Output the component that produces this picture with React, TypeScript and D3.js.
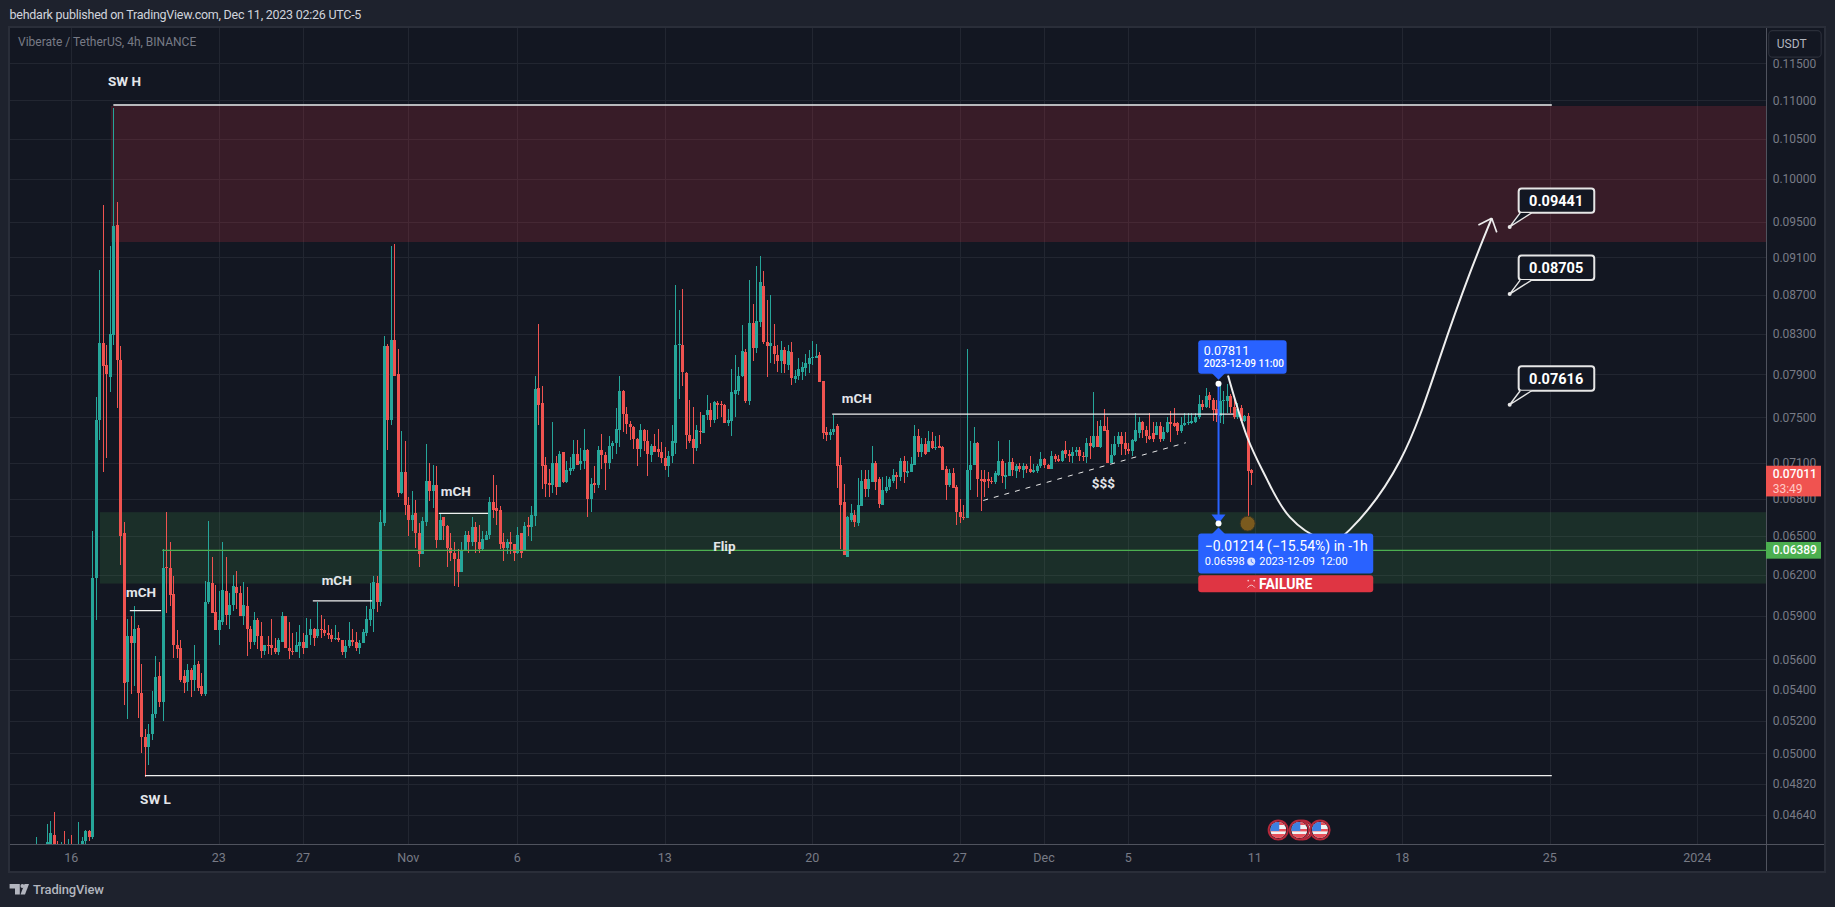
import React, { useEffect, useRef } from "react";
import * as d3 from "d3";

// open, high, low, close, one row per candle
const candlesOct = [
  [.0440,.0452,.0438,.0443],[.0443,.0446,.0438,.0441],[.0441,.0444,.0438,.0442],[.0445,.0459,.0442,.0449],
  [.0445,.0461,.0440,.0454],[.0453,.0466,.0440,.0444],[.0444,.0450,.0438,.0441],[.0441,.0449,.0438,.0444],
  [.0444,.0455,.0438,.0441],[.0441,.0451,.0438,.0444],[.0444,.0453,.0438,.0441],[.0441,.0447,.0438,.0443],
  [.0441,.0460,.0438,.0444],[.0444,.0452,.0440,.0450],[.0450,.0456,.0448,.0455],[.0455,.0456,.0450,.0452],
  [.0452,.0654,.0451,.0618],[.0618,.0769,.0587,.0748],[.0748,.0896,.0730,.0821],[.0821,.0969,.0702,.0798],
  [.0799,.0819,.0714,.0790],[.0788,.0923,.0773,.0830],[.0829,.1090,.0819,.0945],[.0946,.0973,.0759,.0804],
  [.0804,.0818,.0628,.0650],[.0652,.0661,.0530,.0544],[.0545,.0588,.0521,.0576],[.0576,.0590,.0537,.0571],
  [.0571,.0597,.0542,.0581],[.0582,.0584,.0522,.0538],[.0538,.0557,.0500,.0510],[.0510,.0515,.0486,.0504],
  [.0504,.0518,.0493,.0512],[.0512,.0539,.0508,.0524],[.0524,.0562,.0522,.0548],[.0549,.0558,.0529,.0532],
  [.0532,.0640,.0520,.0625],[.0626,.0669,.0592,.0625],[.0625,.0645,.0597,.0605],[.0606,.0619,.0561,.0570],
  [.0570,.0580,.0561,.0567],[.0568,.0573,.0545,.0546],[.0549,.0553,.0538,.0544],[.0545,.0557,.0539,.0553],
  [.0553,.0554,.0535,.0546],[.0546,.0570,.0539,.0556],[.0557,.0559,.0539,.0541],[.0542,.0551,.0536,.0537],
  [.0537,.0616,.0536,.0600],[.0600,.0662,.0599,.0615],[.0614,.0634,.0592,.0592],[.0593,.0613,.0580,.0580],
  [.0580,.0608,.0570,.0587],[.0586,.0645,.0584,.0609],[.0608,.0634,.0584,.0591],[.0591,.0607,.0581,.0598],
  [.0598,.0620,.0594,.0612],[.0611,.0623,.0595,.0607],[.0607,.0612,.0590,.0590],[.0590,.0615,.0584,.0598],
  [.0597,.0611,.0562,.0581],[.0581,.0583,.0567,.0572],[.0572,.0593,.0570,.0587],[.0587,.0589,.0567,.0576],
  [.0576,.0586,.0561,.0566],[.0566,.0570,.0563,.0570],[.0570,.0576,.0564,.0569],[.0570,.0588,.0563,.0568],
  [.0568,.0575,.0564,.0565],[.0565,.0575,.0563,.0573],[.0572,.0593,.0572,.0590],[.0590,.0590,.0568,.0568],
  [.0568,.0586,.0560,.0566],[.0566,.0578,.0563,.0565],[.0565,.0579,.0565,.0570],[.0569,.0584,.0561,.0572],
  [.0572,.0578,.0564,.0568],[.0568,.0589,.0568,.0577],[.0577,.0588,.0570,.0581],[.0581,.0582,.0569,.0575],
  [.0576,.0600,.0575,.0581],[.0581,.0591,.0575,.0580],[.0580,.0588,.0576,.0578],[.0578,.0584,.0574,.0577],
  [.0577,.0581,.0572,.0574],[.0574,.0584,.0573,.0575],[.0575,.0579,.0572,.0573],[.0573,.0573,.0563,.0565],
  [.0565,.0573,.0561,.0569],[.0569,.0586,.0568,.0573],[.0573,.0581,.0569,.0572],[.0572,.0579,.0566,.0568],
  [.0568,.0573,.0564,.0571],[.0571,.0581,.0571,.0579],[.0578,.0597,.0576,.0588],[.0587,.0614,.0583,.0595],
  [.0595,.0619,.0579,.0615],[.0614,.0619,.0593,.0600],[.0600,.0671,.0597,.0661],[.0660,.0828,.0658,.0818],
  [.0818,.0820,.0721,.0748],[.0748,.0923,.0743,.0824],[.0824,.0925,.0789,.0789],[.0790,.0815,.0681,.0685],
  [.0685,.0738,.0684,.0702],[.0702,.0729,.0667,.0675],
];

const candlesNov = [
  [.0675,.0681,.0650,.0663],[.0663,.0686,.0654,.0667],[.0668,.0679,.0641,.0652],[.0652,.0660,.0626,.0636],
  [.0636,.0665,.0636,.0662],[.0661,.0726,.0658,.0695],[.0695,.0710,.0678,.0686],[.0686,.0708,.0672,.0691],
  [.0691,.0707,.0641,.0647],[.0647,.0668,.0647,.0663],[.0665,.0665,.0647,.0658],[.0658,.0659,.0626,.0641],
  [.0641,.0652,.0631,.0637],[.0637,.0645,.0612,.0632],[.0632,.0640,.0611,.0622],[.0622,.0645,.0622,.0639],
  [.0639,.0654,.0638,.0651],[.0651,.0654,.0637,.0645],[.0645,.0665,.0642,.0657],[.0657,.0661,.0637,.0645],
  [.0645,.0659,.0637,.0640],[.0640,.0654,.0639,.0648],[.0647,.0654,.0647,.0651],[.0651,.0681,.0648,.0677],
  [.0677,.0700,.0664,.0671],[.0672,.0691,.0659,.0670],[.0671,.0674,.0640,.0644],[.0645,.0652,.0631,.0641],
  [.0641,.0648,.0636,.0645],[.0645,.0653,.0636,.0644],[.0644,.0644,.0631,.0637],[.0637,.0657,.0636,.0651],
  [.0652,.0652,.0633,.0637],[.0639,.0661,.0639,.0658],[.0659,.0665,.0650,.0657],[.0657,.0674,.0646,.0667],
  [.0666,.0789,.0658,.0776],[.0777,.0840,.0743,.0761],[.0763,.0779,.0688,.0707],[.0708,.0715,.0681,.0692],
  [.0693,.0705,.0681,.0691],[.0691,.0746,.0685,.0710],[.0710,.0716,.0683,.0690],[.0690,.0720,.0690,.0718],
  [.0719,.0719,.0693,.0694],[.0694,.0712,.0693,.0704],[.0703,.0715,.0700,.0706],[.0705,.0730,.0703,.0718],
  [.0718,.0730,.0708,.0708],[.0709,.0723,.0704,.0712],[.0712,.0740,.0705,.0721],[.0721,.0722,.0665,.0680],
  [.0680,.0697,.0669,.0692],[.0693,.0707,.0685,.0691],[.0691,.0725,.0689,.0721],[.0721,.0735,.0705,.0717],
  [.0717,.0719,.0687,.0710],[.0710,.0733,.0705,.0725],[.0725,.0729,.0713,.0727],[.0727,.0759,.0718,.0740],
  [.0739,.0789,.0724,.0774],[.0774,.0775,.0737,.0753],[.0753,.0760,.0735,.0744],[.0744,.0747,.0730,.0741],
  [.0741,.0742,.0722,.0731],[.0731,.0732,.0707,.0722],[.0722,.0744,.0715,.0739],[.0739,.0740,.0720,.0729],
  [.0729,.0739,.0699,.0718],[.0717,.0726,.0711,.0725],[.0725,.0735,.0719,.0719],[.0722,.0740,.0715,.0719],
  [.0719,.0728,.0710,.0714],[.0714,.0724,.0704,.0707],[.0707,.0720,.0698,.0716],[.0716,.0743,.0710,.0729],
  [.0727,.0880,.0718,.0819],[.0819,.0854,.0767,.0820],[.0819,.0876,.0779,.0792],[.0791,.0792,.0722,.0734],
  [.0734,.0766,.0727,.0729],[.0731,.0760,.0709,.0723],[.0723,.0743,.0720,.0739],[.0738,.0755,.0726,.0737],
  [.0736,.0752,.0736,.0752],[.0752,.0771,.0748,.0757],[.0757,.0763,.0741,.0748],[.0748,.0765,.0745,.0764],
  [.0763,.0765,.0749,.0761],[.0762,.0765,.0750,.0761],[.0761,.0762,.0745,.0745],[.0745,.0758,.0742,.0748],
  [.0747,.0795,.0733,.0773],[.0772,.0809,.0750,.0775],[.0774,.0797,.0771,.0789],[.0789,.0839,.0788,.0813],
  [.0812,.0815,.0763,.0765],[.0765,.0885,.0761,.0841],[.0841,.0860,.0803,.0816],[.0816,.0901,.0811,.0843],
  [.0842,.0912,.0837,.0883],[.0879,.0895,.0820,.0822],[.0822,.0864,.0788,.0818],[.0818,.0870,.0801,.0821],
  [.0818,.0840,.0800,.0810],[.0809,.0819,.0792,.0803],[.0803,.0823,.0791,.0814],[.0814,.0817,.0791,.0800],
  [.0799,.0819,.0794,.0813],[.0812,.0822,.0780,.0787],[.0786,.0794,.0782,.0789],[.0789,.0806,.0785,.0795],
  [.0792,.0802,.0785,.0797],[.0796,.0810,.0789,.0801],[.0800,.0814,.0791,.0806],[.0806,.0823,.0799,.0807],
  [.0806,.0820,.0806,.0808],[.0809,.0812,.0783,.0783],[.0784,.0784,.0731,.0736],[.0737,.0741,.0729,.0734],
  [.0734,.0740,.0730,.0737],[.0737,.0752,.0734,.0740],[.0742,.0744,.0689,.0707],[.0708,.0715,.0640,.0675],
  [.0677,.0692,.0635,.0635],[.0634,.0666,.0634,.0665],[.0663,.0676,.0661,.0668],[.0667,.0671,.0657,.0661],
  [.0660,.0697,.0658,.0675],[.0674,.0704,.0674,.0695],[.0696,.0704,.0681,.0688],[.0688,.0704,.0681,.0696],
  [.0694,.0725,.0694,.0710],[.0710,.0712,.0687,.0694],[.0696,.0698,.0672,.0676],[.0675,.0698,.0675,.0687],
  [.0686,.0699,.0685,.0690],[.0690,.0698,.0687,.0696],[.0695,.0705,.0693,.0700],[.0700,.0702,.0688,.0698],
  [.0698,.0714,.0695,.0712],[.0712,.0716,.0693,.0702],[.0701,.0712,.0698,.0703],[.0702,.0715,.0702,.0709],
  [.0708,.0743,.0708,.0733],[.0733,.0740,.0715,.0719],[.0719,.0732,.0715,.0726],[.0726,.0732,.0717,.0718],
  [.0719,.0738,.0719,.0729],[.0729,.0737,.0722,.0723],[.0723,.0733,.0721,.0724],[.0725,.0734,.0723,.0723],
  [.0724,.0725,.0704,.0704],[.0705,.0707,.0679,.0691],[.0691,.0705,.0690,.0701],[.0701,.0706,.0689,.0689],
  [.0690,.0691,.0659,.0669],[.0669,.0680,.0660,.0665],[.0665,.0675,.0663,.0664],[.0664,.0815,.0664,.0704],
  [.0704,.0729,.0687,.0708],[.0708,.0741,.0708,.0727],[.0727,.0728,.0681,.0696],[.0696,.0704,.0670,.0695],
  [.0696,.0704,.0681,.0694],[.0696,.0702,.0689,.0695],[.0695,.0698,.0692,.0694],[.0694,.0703,.0692,.0701],
  [.0700,.0729,.0699,.0712],[.0712,.0713,.0693,.0699],[.0698,.0710,.0688,.0700],[.0699,.0730,.0699,.0711],
  [.0711,.0714,.0699,.0704],[.0703,.0709,.0697,.0707],[.0707,.0710,.0702,.0705],[.0704,.0710,.0697,.0707],
  [.0707,.0709,.0701,.0705],[.0705,.0716,.0701,.0702],[.0702,.0709,.0701,.0704],[.0703,.0709,.0701,.0707],
  [.0707,.0719,.0706,.0713],
];

const candlesDec = [
  [.0713,.0714,.0706,.0708],[.0708,.0709,.0705,.0705],[.0705,.0720,.0705,.0716],[.0716,.0718,.0711,.0713],
  [.0713,.0717,.0711,.0712],[.0712,.0721,.0711,.0720],[.0721,.0729,.0714,.0718],[.0718,.0721,.0711,.0716],
  [.0716,.0724,.0710,.0719],[.0719,.0724,.0716,.0721],[.0721,.0724,.0712,.0716],[.0716,.0719,.0712,.0715],
  [.0715,.0732,.0710,.0727],[.0727,.0733,.0713,.0725],[.0724,.0773,.0723,.0733],[.0733,.0747,.0724,.0724],
  [.0724,.0748,.0723,.0742],[.0742,.0758,.0738,.0738],[.0739,.0750,.0710,.0710],[.0710,.0726,.0710,.0717],
  [.0717,.0733,.0716,.0726],[.0726,.0737,.0724,.0733],[.0733,.0737,.0717,.0726],[.0727,.0737,.0717,.0722],
  [.0722,.0727,.0718,.0720],[.0720,.0731,.0716,.0730],[.0729,.0754,.0728,.0739],[.0736,.0750,.0732,.0746],
  [.0746,.0747,.0732,.0739],[.0739,.0742,.0727,.0733],[.0733,.0754,.0730,.0731],[.0736,.0746,.0728,.0731],
  [.0734,.0746,.0734,.0742],[.0742,.0746,.0728,.0731],[.0731,.0741,.0729,.0737],[.0737,.0750,.0736,.0746],
  [.0746,.0756,.0728,.0744],[.0745,.0759,.0741,.0742],[.0745,.0746,.0734,.0738],[.0738,.0750,.0736,.0743],
  [.0743,.0754,.0742,.0745],[.0745,.0754,.0743,.0746],[.0745,.0754,.0744,.0747],[.0746,.0754,.0745,.0750],
  [.0750,.0771,.0749,.0762],[.0762,.0766,.0757,.0760],[.0760,.0777,.0759,.0770],[.0771,.0773,.0759,.0766],
  [.0766,.0768,.0747,.0757],[.0758,.0766,.0746,.0752],[.0751,.07811,.0745,.0765],[.0765,.0774,.0744,.0766],
  [.0765,.0781,.0754,.0770],[.0770,.0772,.0754,.0760],[.0760,.0766,.0749,.0750],[.0750,.0763,.0749,.0758],
  [.0759,.0761,.0747,.0747],[.0747,.0752,.0746,.0751],[.0751,.0754,.06598,.0703],[.0704,.0705,.0691,.07011],
];

const firstCandleIndex = -10; // candle index 0 sits on the "16" tick

const priceTicks = [0.115, 0.11, 0.105, 0.1, 0.095, 0.091, 0.087, 0.083, 0.079, 0.075, 0.071, 0.068, 0.065, 0.062, 0.059, 0.056, 0.054, 0.052, 0.05, 0.0482, 0.0464];
const dateLabels = ["16", "23", "27", "Nov", "6", "13", "20", "27", "Dec", "5", "11", "18", "25", "2024"];
const dateCandles = [0, 42, 66, 96, 127, 169, 211, 253, 277, 301, 337, 379, 421, 463];

// drawings, in candle index and price
const zoneRed = { from: 11.3, top: 0.10925, bottom: 0.0927 };
const zoneGreen = { from: 8.2, top: 0.0669, bottom: 0.06137 };
const flipPrice = 0.06389;
const flipFrom = 25.9;
const structureLines = [
  [12, 421.6, 0.10938],
  [21, 421.6, 0.04867],
  [16.7, 25.6, 0.0594],
  [68.8, 85.7, 0.0601],
  [104.7, 118.7, 0.0668],
  [216.7, 331, 0.0753],
];
const trendline = [[259.7, 0.06785], [317.4, 0.07275]];
const noteLabels = [
  ["SW H", 15.2, 0.1126],
  ["SW L", 24, 0.04732],
  ["mCH", 19.9, 0.0607],
  ["mCH", 75.6, 0.0616],
  ["mCH", 109.5, 0.0686],
  ["mCH", 223.7, 0.0768],
  ["Flip", 186, 0.0642],
  ["$$$", 293.9, 0.0693],
];
const pathPoints = [
  [329.4, 0.0789], [334.8, 0.0733], [340.5, 0.0696], [347, 0.0665], [356.4, 0.0647],
  [364.1, 0.0655], [378.4, 0.0712], [389.8, 0.0807], [398.3, 0.0893], [404.5, 0.0954],
];
const targetPrices = [0.09441, 0.08705, 0.07616];
const targetCandle = 409.6;
const flagCandles = [343.7, 350.7, 349.7, 355.6];

const PAGE_W = 1835;
const PAGE_H = 907;
const PANE = { left: 10, top: 28, right: 1766, bottom: 844 };
const UP = "#26a69a";
const DOWN = "#ef5350";
const BLUE = "#2962ff";
const FONT = "Roboto, sans-serif";

const App: React.FC = () => {
  const ref = useRef<SVGSVGElement | null>(null);

  useEffect(() => {
    document.body.style.margin = "0";
    const svg = d3.select(ref.current);
    svg.selectAll("*").remove();

    const candles = [...candlesOct, ...candlesNov, ...candlesDec].map((c, i) => ({
      k: i + firstCandleIndex,
      open: c[0],
      high: c[1],
      low: c[2],
      close: c[3],
    }));

    // Scales
    const x = d3.scaleLinear().domain([0, 463]).range([71.2, 1697.2]);
    const y = d3.scaleLog().domain([0.05, 0.11]).range([753.3, 100.3]);

    const text = (g: any, str: string, px: number, py: number, size: number, fill: string, weight = 400, anchor = "start") =>
      g
        .append("text")
        .attr("x", px)
        .attr("y", py)
        .attr("dy", "0.35em")
        .attr("font-family", FONT)
        .attr("font-size", size)
        .attr("font-weight", weight)
        .attr("fill", fill)
        .attr("text-anchor", anchor)
        .text(str);

    // Page and pane
    svg.append("rect").attr("width", PAGE_W).attr("height", PAGE_H).attr("fill", "#1e222d");
    svg
      .append("rect")
      .attr("x", 9)
      .attr("y", 27)
      .attr("width", 1816)
      .attr("height", 845)
      .attr("fill", "#131722")
      .attr("stroke", "#2a2e39")
      .attr("stroke-width", 2);
    text(svg, "behdark published on TradingView.com, Dec 11, 2023 02:26 UTC-5", 9.5, 15, 12.5, "#d1d4dc").attr("letter-spacing", -0.25);

    svg
      .append("clipPath")
      .attr("id", "pane")
      .append("rect")
      .attr("x", PANE.left)
      .attr("y", PANE.top)
      .attr("width", PANE.right - PANE.left)
      .attr("height", PANE.bottom - PANE.top);
    const pane = svg.append("g").attr("clip-path", "url(#pane)");

    // Grid
    const grid = pane.append("g").attr("stroke", "#222631").attr("shape-rendering", "crispEdges");
    priceTicks.forEach((p) => {
      grid.append("line").attr("x1", PANE.left).attr("x2", PANE.right).attr("y1", Math.round(y(p))).attr("y2", Math.round(y(p)));
    });
    dateCandles.forEach((k) => {
      grid.append("line").attr("x1", Math.round(x(k))).attr("x2", Math.round(x(k))).attr("y1", PANE.top).attr("y2", PANE.bottom);
    });

    text(pane, "Viberate / TetherUS, 4h, BINANCE", 18, 42, 12, "#787b86");

    // Zones
    pane
      .append("rect")
      .attr("x", x(zoneRed.from))
      .attr("y", y(zoneRed.top))
      .attr("width", PANE.right - x(zoneRed.from))
      .attr("height", y(zoneRed.bottom) - y(zoneRed.top))
      .attr("fill", "#f23645")
      .attr("fill-opacity", 0.17);
    pane
      .append("rect")
      .attr("x", x(zoneGreen.from))
      .attr("y", y(zoneGreen.top))
      .attr("width", PANE.right - x(zoneGreen.from))
      .attr("height", y(zoneGreen.bottom) - y(zoneGreen.top))
      .attr("fill", "#4caf50")
      .attr("fill-opacity", 0.16);

    // Candles
    const candleG = pane.append("g").attr("shape-rendering", "crispEdges");
    candleG
      .selectAll(".wick")
      .data(candles)
      .enter()
      .append("rect")
      .attr("x", (d) => Math.round(x(d.k)))
      .attr("y", (d) => y(d.high))
      .attr("width", 1)
      .attr("height", (d) => y(d.low) - y(d.high))
      .attr("fill", (d) => (d.close >= d.open ? UP : DOWN));
    candleG
      .selectAll(".body")
      .data(candles)
      .enter()
      .append("rect")
      .attr("x", (d) => Math.round(x(d.k)) - 1)
      .attr("y", (d) => y(Math.max(d.open, d.close)))
      .attr("width", 3)
      .attr("height", (d) => Math.max(1, Math.abs(y(d.open) - y(d.close))))
      .attr("fill", (d) => (d.close >= d.open ? UP : DOWN));

    // Flip level
    pane
      .append("line")
      .attr("x1", x(flipFrom))
      .attr("x2", PANE.right)
      .attr("y1", y(flipPrice))
      .attr("y2", y(flipPrice))
      .attr("stroke", "#4caf50")
      .attr("stroke-width", 1.2);

    // Structure lines
    structureLines.forEach(([a, b, p]) => {
      pane
        .append("line")
        .attr("x1", x(a))
        .attr("x2", x(b))
        .attr("y1", y(p))
        .attr("y2", y(p))
        .attr("stroke", "#f0f0f0")
        .attr("stroke-width", 1.3);
    });
    pane
      .append("line")
      .attr("x1", x(trendline[0][0]))
      .attr("y1", y(trendline[0][1]))
      .attr("x2", x(trendline[1][0]))
      .attr("y2", y(trendline[1][1]))
      .attr("stroke", "#e8e8e8")
      .attr("stroke-width", 1)
      .attr("stroke-dasharray", "5,6");

    noteLabels.forEach(([str, k, p]) => {
      text(pane, str as string, x(k as number), y(p as number), 13.5, "#e4e6ea", 700, "middle");
    });

    // Projected path with open arrow
    const line = d3
      .line<number[]>()
      .x((d) => x(d[0]))
      .y((d) => y(d[1]))
      .curve(d3.curveNatural);
    pane
      .append("path")
      .attr("d", line(pathPoints))
      .attr("fill", "none")
      .attr("stroke", "#eeeeee")
      .attr("stroke-width", 2);
    const last = pathPoints[pathPoints.length - 1];
    const prev = pathPoints[pathPoints.length - 2];
    const tipX = x(last[0]);
    const tipY = y(last[1]);
    const back = Math.atan2(y(prev[1]) - tipY, x(prev[0]) - tipX);
    [-0.72, 0.72].forEach((da) => {
      pane
        .append("line")
        .attr("x1", tipX)
        .attr("y1", tipY)
        .attr("x2", tipX + 15 * Math.cos(back + da))
        .attr("y2", tipY + 15 * Math.sin(back + da))
        .attr("stroke", "#eeeeee")
        .attr("stroke-width", 1.6);
    });

    // Target callouts
    targetPrices.forEach((p) => {
      const px = x(targetCandle);
      const py = y(p);
      const g = pane.append("g");
      g.append("rect")
        .attr("x", px + 9)
        .attr("y", py - 38.5)
        .attr("width", 75.6)
        .attr("height", 24.4)
        .attr("rx", 3)
        .attr("fill", "#131722")
        .attr("stroke", "#e6e6e6")
        .attr("stroke-width", 2);
      g.append("path")
        .attr("d", `M${px + 10.5},${py - 14} L${px},${py} L${px + 22},${py - 14}`)
        .attr("fill", "#131722")
        .attr("stroke", "#e6e6e6")
        .attr("stroke-width", 1.4);
      g.append("circle").attr("cx", px).attr("cy", py).attr("r", 2).attr("fill", "#e6e6e6");
      text(g, d3.format(".5f")(p), px + 46.5, py - 26.3, 14.5, "#ffffff", 700, "middle");
    });

    // Price range measure
    const topK = 326.7;
    const topP = 0.07811;
    const botP = 0.06598;
    const mx = x(topK);
    const myTop = y(topP);
    const myBot = y(botP);
    const boxL = mx - 20.3;
    pane.append("line").attr("x1", mx).attr("x2", mx).attr("y1", myTop).attr("y2", myBot - 6).attr("stroke", BLUE).attr("stroke-width", 2);
    pane.append("path").attr("d", `M${mx - 7},${myBot - 9} H${mx + 7} L${mx},${myBot} Z`).attr("fill", BLUE);
    pane.append("circle").attr("cx", mx).attr("cy", myTop).attr("r", 3).attr("fill", "#ffffff");
    pane.append("circle").attr("cx", mx).attr("cy", myBot).attr("r", 3).attr("fill", "#ffffff");
    pane
      .append("rect")
      .attr("x", boxL)
      .attr("y", myTop - 43.5)
      .attr("width", 88.4)
      .attr("height", 33.5)
      .attr("rx", 3)
      .attr("fill", BLUE);
    pane.append("path").attr("d", `M${mx - 7},${myTop - 11} H${mx + 7} L${mx},${myTop - 4} Z`).attr("fill", BLUE);
    text(pane, "0.07811", boxL + 5.5, myTop - 33, 12.5, "#ffffff");
    text(pane, "2023-12-09 11:00", boxL + 5.5, myTop - 20, 10, "#ffffff", 500);
    pane.append("path").attr("d", `M${mx - 7},${myBot + 11} H${mx + 7} L${mx},${myBot + 4} Z`).attr("fill", BLUE);
    pane
      .append("rect")
      .attr("x", boxL)
      .attr("y", myBot + 10)
      .attr("width", 175)
      .attr("height", 40)
      .attr("rx", 3)
      .attr("fill", BLUE);
    text(pane, "\u22120.01214 (\u221215.54%) in -1h", boxL + 6.5, myBot + 22, 14, "#ffffff");
    text(pane, "0.06598", boxL + 6.5, myBot + 38, 11, "#ffffff");
    pane.append("circle").attr("cx", mx + 32.7).attr("cy", myBot + 38).attr("r", 4).attr("fill", "#d6e0ff");
    pane.append("path").attr("d", `M${mx + 32.7},${myBot + 35.5} V${myBot + 38} L${mx + 35},${myBot + 39.5}`).attr("fill", "none").attr("stroke", BLUE).attr("stroke-width", 0.8);
    text(pane, "2023-12-09\u00a0\u00a012:00", boxL + 61, myBot + 38, 11, "#ffffff");
    pane
      .append("rect")
      .attr("x", boxL)
      .attr("y", myBot + 51.7)
      .attr("width", 175)
      .attr("height", 17)
      .attr("rx", 3)
      .attr("fill", "#df3543");
    [-3, 3].forEach((d) => {
      pane.append("circle").attr("cx", mx + 32.7 + d).attr("cy", myBot + 57).attr("r", 0.9).attr("fill", "#f4c3c7");
    });
    pane
      .append("path")
      .attr("d", `M${mx + 29},${myBot + 64} Q${mx + 32.7},${myBot + 59} ${mx + 36.4},${myBot + 64}`)
      .attr("fill", "none")
      .attr("stroke", "#f4c3c7")
      .attr("stroke-width", 1);
    text(pane, "FAILURE", mx + 40.5, myBot + 60.5, 14, "#ffffff", 700);

    // Entry marker on the last candle's wick
    pane
      .append("circle")
      .attr("cx", x(335))
      .attr("cy", y(botP))
      .attr("r", 7.5)
      .attr("fill", "#7a5a1e")
      .attr("stroke", "#3a3520")
      .attr("stroke-width", 1);

    // Calendar flags
    const flagY = 830;
    flagCandles.forEach((k, i) => {
      const fx = x(k);
      const id = `flag${i}`;
      svg.append("clipPath").attr("id", id).append("circle").attr("cx", fx).attr("cy", flagY).attr("r", 8);
      const f = svg.append("g");
      f.append("circle").attr("cx", fx).attr("cy", flagY).attr("r", 9.6).attr("fill", "#131722").attr("stroke", "#b5283a").attr("stroke-width", 2);
      const inner = f.append("g").attr("clip-path", `url(#${id})`);
      inner.append("rect").attr("x", fx - 8).attr("y", flagY - 8).attr("width", 16).attr("height", 16).attr("fill", "#f2f2f2");
      inner.append("rect").attr("x", fx - 8).attr("y", flagY - 8).attr("width", 16).attr("height", 3).attr("fill", "#e8505b");
      inner.append("rect").attr("x", fx - 8).attr("y", flagY - 1).attr("width", 16).attr("height", 2.4).attr("fill", "#e8505b");
      inner.append("rect").attr("x", fx - 8).attr("y", flagY + 4).attr("width", 16).attr("height", 4).attr("fill", "#e8505b");
      inner.append("rect").attr("x", fx - 8).attr("y", flagY - 8).attr("width", 9).attr("height", 9).attr("fill", "#3d7fe0");
    });

    // Axes
    svg
      .append("line")
      .attr("x1", 10)
      .attr("x2", 1824)
      .attr("y1", PANE.bottom + 0.5)
      .attr("y2", PANE.bottom + 0.5)
      .attr("stroke", "#50535e");
    svg
      .append("line")
      .attr("x1", PANE.right + 0.5)
      .attr("x2", PANE.right + 0.5)
      .attr("y1", 28)
      .attr("y2", 871)
      .attr("stroke", "#50535e");

    priceTicks.forEach((p) => {
      text(svg, d3.format(".5f")(p), 1772.7, y(p), 12, "#787b86");
    });
    dateLabels.forEach((label, i) => {
      text(svg, label, x(dateCandles[i]), 858, 12.5, "#787b86", 400, "middle");
    });

    // Currency button covers the clipped top tick
    svg.append("rect").attr("x", 1767).attr("y", 29).attr("width", 56).attr("height", 29).attr("fill", "#131722");
    svg
      .append("rect")
      .attr("x", 1768.7)
      .attr("y", 30.7)
      .attr("width", 52.5)
      .attr("height", 26.5)
      .attr("rx", 4)
      .attr("fill", "#131722")
      .attr("stroke", "#2a2e39")
      .attr("stroke-width", 1.2);
    text(svg, "USDT", 1791.7, 44, 12, "#b2b5be", 400, "middle");

    // Price tags
    const lastPrice = 0.07011;
    svg.append("rect").attr("x", 1766).attr("y", y(lastPrice) - 7.6).attr("width", 55).attr("height", 30.7).attr("fill", "#f05350");
    text(svg, d3.format(".5f")(lastPrice), 1772.7, y(lastPrice) + 0.7, 12, "#ffffff", 500);
    text(svg, "33:49", 1772.7, y(lastPrice) + 15, 12, "#ffc9c6");
    svg.append("rect").attr("x", 1766).attr("y", y(flipPrice) - 8.3).attr("width", 55).attr("height", 16.7).attr("fill", "#4caf50");
    text(svg, d3.format(".5f")(flipPrice), 1772.7, y(flipPrice), 12, "#ffffff", 500);

    // Brand
    const brand = svg.append("g").attr("fill", "#b2b5be");
    brand.append("path").attr("d", "M9.6,884 H19.8 V894.5 H15 V888.6 H9.6 Z");
    brand.append("circle").attr("cx", 22.4).attr("cy", 886).attr("r", 2);
    brand.append("path").attr("d", "M24.5,884 H29 L25,894.5 H20.5 Z");
    text(svg, "TradingView", 33, 889.5, 13, "#b2b5be", 500).attr("letter-spacing", -0.15);
  }, []);

  return <svg ref={ref} width={PAGE_W} height={PAGE_H} style={{ position: "fixed", left: 0, top: 0, display: "block" }} />;
};

export default App;
